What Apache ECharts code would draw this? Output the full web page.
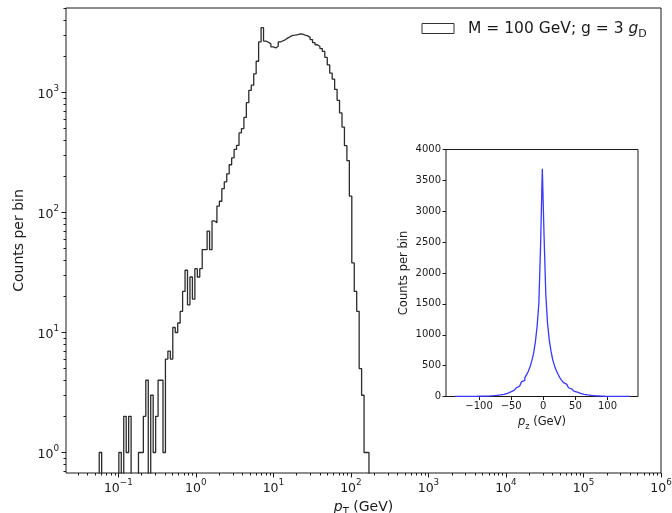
<!DOCTYPE html>
<html><head><meta charset="utf-8">
<script src="https://cdn.jsdelivr.net/npm/echarts@6/dist/echarts.min.js"></script>
<style>html,body{margin:0;padding:0;background:#fff}#c{width:672px;height:513px}</style>
</head><body><div id="c"></div>
<script>
// ---- Main histogram: pT (log-spaced bins) ----
const ptBinLow = 0.0567;   // GeV, lower edge of first bin
const ptBinHigh = 171;     // GeV, upper edge of last bin
const ptCounts = [
  1,0,0,0,0,0,0,0,1,0,
  2,1,2,0,0,0,1,1,2,4,
  0,3,1,2,4,4,1,6,7,6,
  11,10,12,15,22,33,17,29,19,34,
  29,34,49,49,70,49,85,82,113,124,
  158,180,210,250,285,335,362,460,500,620,
  822,1040,1150,1430,1820,2640,3470,2680,2620,2540,
  2400,2350,2430,2640,2700,2760,2850,2930,2990,3010,
  3040,3080,3060,3000,2960,2880,2760,2600,2500,2420,
  2320,2200,1960,1700,1450,1290,1060,860,675,515,
  360,270,137,38,22,15,5,3,1,1
];
const ptTickExponents = [-1,0,1,2,3,4,5,6];
const countTickExponents = [0,1,2,3];

// ---- Inset histogram: pz (linear bins) ----
const pzBinLow = -137.5;
const pzBinHigh = 134.5;
const pzCounts = [
  1,1,0,1,1,1,2,1,2,2,
  2,3,3,4,4,5,6,7,8,9,
  11,13,16,19,22,26,31,35,43,52,
  62,76,86,104,122,138,168,195,236,262,
  305,355,410,480,580,700,880,1130,1500,2450,
  3690,
  2600,1650,1180,910,730,590,495,420,360,
  305,265,228,196,166,142,120,101,86,72,
  61,51,43,36,30,25,21,18,15,12,
  10,9,7,6,5,4,4,3,3,2,
  2,2,1,1,1,1,0,1,0,1
];
const pzTicks = [-100,-50,0,50,100];

const legendLabel = 'M = 100 GeV; g = 3 ';

// ---- build geometry helpers ----
const FONT = 'DejaVu Sans';
const INK = '#1a1a1a';
const nPt = ptCounts.length;
const lgLo = Math.log10(ptBinLow), lgHi = Math.log10(ptBinHigh);
const ptEdgesLog = [];
for (let i = 0; i <= nPt; i++) ptEdgesLog.push(lgLo + (lgHi - lgLo) * i / nPt);
const BELOW = -3;
const mainPts = [[ptEdgesLog[0], BELOW]];
ptCounts.forEach((c, i) => {
  const y = c > 0 ? Math.log10(c) : BELOW;
  mainPts.push([ptEdgesLog[i], y], [ptEdgesLog[i + 1], y]);
});
mainPts.push([ptEdgesLog[nPt], BELOW]);

const nPz = pzCounts.length;
const pzEdges = [];
for (let i = 0; i <= nPz; i++) pzEdges.push(pzBinLow + (pzBinHigh - pzBinLow) * i / nPz);
const insetPts = [[pzEdges[0], 0]];
pzCounts.forEach((c, i) => { insetPts.push([pzEdges[i], c], [pzEdges[i + 1], c]); });
insetPts.push([pzEdges[nPz], 0]);

const X_MIN = -1.675, X_MAX = 6;
const Y_MIN = -0.171, Y_MAX = 3.704;
const minorX = [], minorY = [];
for (let n = -2; n <= 6; n++) for (let m = 2; m <= 9; m++) {
  const v = n + Math.log10(m);
  if (v > X_MIN && v < X_MAX) minorX.push(v);
  if (v > Y_MIN && v < Y_MAX) minorY.push(v);
}
const minus = v => (v < 0 ? '\u2212' + (-v) : '' + v);
const powRich = {
  b: {fontSize: 12.5, fontFamily: FONT, color: INK, lineHeight: 17, verticalAlign: 'bottom'},
  s: {fontSize: 8.8, fontFamily: FONT, color: INK, lineHeight: 17, verticalAlign: 'top'}
};
const powFmt = v => '{b|10}{s|' + minus(Math.round(v)) + '}';
const noLine = {show: false, onZero: false};

const chart = echarts.init(document.getElementById('c'), null, {renderer: 'canvas'});
chart.setOption({
  animation: false,
  backgroundColor: '#fff',
  grid: [
    {left: 66, top: 8, width: 595, height: 465, show: true, borderColor: INK, borderWidth: 1,
     backgroundColor: 'transparent', containLabel: false, outerBoundsMode: 'none'},
    {left: 446, top: 149.5, width: 192, height: 247, show: true, borderColor: INK, borderWidth: 1,
     backgroundColor: '#fff', containLabel: false, outerBoundsMode: 'none'}
  ],
  legend: {
    data: ['pT'], left: 421.5, top: 20.5, padding: 0, icon: 'rect', itemWidth: 32, itemHeight: 10,
    itemStyle: {color: '#fff', borderColor: '#333', borderWidth: 1},
    formatter: () => '{t|' + legendLabel + '}{gi|g}{gs|D}',
    textStyle: {
      color: INK, fontFamily: FONT, fontSize: 15.5, padding: [0, 0, 0, 9],
      rich: {
        t: {fontSize: 15.5, fontFamily: FONT, color: INK, lineHeight: 22, verticalAlign: 'middle'},
        gi: {fontSize: 15.5, fontFamily: FONT, fontStyle: 'italic', color: INK, lineHeight: 22, verticalAlign: 'middle'},
        gs: {fontSize: 11, fontFamily: FONT, color: INK, lineHeight: 22, verticalAlign: 'bottom'}
      }
    }
  },
  xAxis: [
    {
      gridIndex: 0, type: 'value', min: X_MIN, max: X_MAX, position: 'bottom',
      axisLine: noLine, splitLine: {show: false},
      axisTick: {show: true, customValues: ptTickExponents, length: 4.5, lineStyle: {color: INK}},
      axisLabel: {customValues: ptTickExponents, formatter: powFmt, rich: powRich, margin: 5},
      name: '{i|p}{sub|T}{t| (GeV)}', nameLocation: 'middle', nameGap: 24,
      nameTextStyle: {rich: {
        i: {fontSize: 14, fontFamily: FONT, fontStyle: 'italic', color: INK, lineHeight: 20, verticalAlign: 'middle'},
        sub: {fontSize: 10, fontFamily: FONT, color: INK, lineHeight: 20, verticalAlign: 'bottom'},
        t: {fontSize: 14, fontFamily: FONT, color: INK, lineHeight: 20, verticalAlign: 'middle'}
      }}
    },
    {
      gridIndex: 0, type: 'value', min: X_MIN, max: X_MAX, position: 'bottom',
      axisLine: noLine, splitLine: {show: false},
      axisTick: {show: true, customValues: minorX, length: 2.5, lineStyle: {color: INK}},
      axisLabel: {show: false}
    },
    {
      gridIndex: 1, type: 'value', min: -151.5, max: 147.5, position: 'bottom',
      axisLine: noLine, splitLine: {show: false},
      axisTick: {show: true, customValues: pzTicks, length: 3.5, lineStyle: {color: INK}},
      axisLabel: {customValues: pzTicks, formatter: v => minus(v), fontSize: 10, fontFamily: FONT, color: INK, margin: 5},
      name: '{i|p}{sub|z}{t| (GeV)}', nameLocation: 'middle', nameGap: 18,
      nameTextStyle: {rich: {
        i: {fontSize: 11.5, fontFamily: FONT, fontStyle: 'italic', color: INK, lineHeight: 16, verticalAlign: 'middle'},
        sub: {fontSize: 8, fontFamily: FONT, color: INK, lineHeight: 16, verticalAlign: 'bottom'},
        t: {fontSize: 11.5, fontFamily: FONT, color: INK, lineHeight: 16, verticalAlign: 'middle'}
      }}
    }
  ],
  yAxis: [
    {
      gridIndex: 0, type: 'value', min: Y_MIN, max: Y_MAX, position: 'left',
      axisLine: noLine, splitLine: {show: false},
      axisTick: {show: true, customValues: countTickExponents, length: 4.5, lineStyle: {color: INK}},
      axisLabel: {customValues: countTickExponents, formatter: powFmt, rich: powRich, margin: 7},
      name: 'Counts per bin', nameLocation: 'middle', nameRotate: 90, nameGap: 31,
      nameTextStyle: {fontSize: 14, fontFamily: FONT, color: INK}
    },
    {
      gridIndex: 0, type: 'value', min: Y_MIN, max: Y_MAX, position: 'left',
      axisLine: noLine, splitLine: {show: false},
      axisTick: {show: true, customValues: minorY, length: 2.5, lineStyle: {color: INK}},
      axisLabel: {show: false}
    },
    {
      gridIndex: 1, type: 'value', min: 0, max: 4000, interval: 500, position: 'left',
      axisLine: noLine, splitLine: {show: false},
      axisTick: {show: true, length: 3.5, lineStyle: {color: INK}},
      axisLabel: {fontSize: 10, fontFamily: FONT, color: INK, margin: 5, formatter: v => '' + v},
      name: 'Counts per bin', nameLocation: 'middle', nameRotate: 90, nameGap: 36,
      nameTextStyle: {fontSize: 11.5, fontFamily: FONT, color: INK}
    }
  ],
  series: [
    {
      name: 'pT', type: 'line', xAxisIndex: 0, yAxisIndex: 0, data: mainPts,
      showSymbol: false, symbol: 'none', clip: true,
      lineStyle: {color: '#2b2b2b', width: 1.3}, itemStyle: {color: '#2b2b2b'}
    },
    {
      name: 'pz', type: 'line', xAxisIndex: 2, yAxisIndex: 2, data: insetPts,
      showSymbol: false, symbol: 'none', clip: true,
      lineStyle: {color: '#3838ff', width: 1.3}, itemStyle: {color: '#3838ff'}
    }
  ]
});
</script></body></html>
